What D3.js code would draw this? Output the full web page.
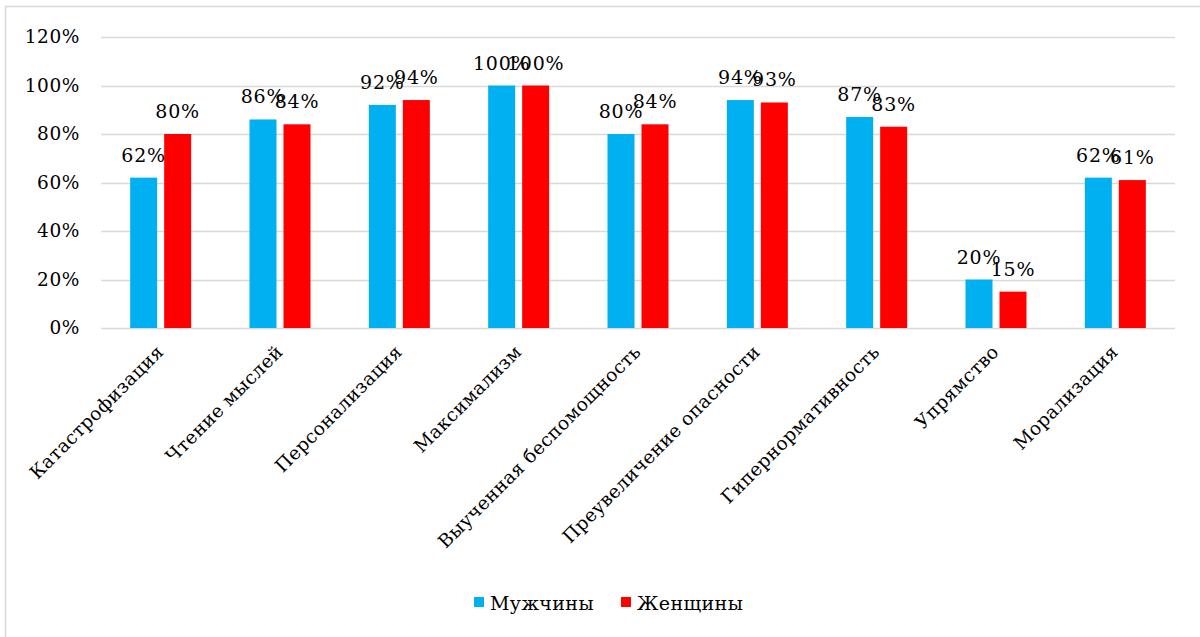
<!DOCTYPE html>
<html lang='ru'>
<head>
    <meta charset='UTF-8'>
    <title>Когнитивные искажения</title>
    <script src='https://d3js.org/d3.v7.min.js'></script>
    <style>
      body { margin: 0; background: #fff; }
      text { font-family: 'DejaVu Serif', 'Liberation Serif', serif; fill: #000; font-variant-numeric: oldstyle-nums; }
    </style>
</head>
<body>
<svg id='chart' width='1200' height='637'></svg>
<script>
// categories and values (percent)
const categories = ['Катастрофизация', 'Чтение мыслей', 'Персонализация', 'Максимализм',
  'Выученная беспомощность', 'Преувеличение опасности', 'Гипернормативность', 'Упрямство', 'Морализация']
const men = [62, 86, 92, 100, 80, 94, 87, 20, 62]
const women = [80, 84, 94, 100, 84, 93, 83, 15, 61]
const seriesNames = ['Мужчины', 'Женщины']
const seriesColors = ['#00B0F0', '#FF0000']
const yTicks = [0, 20, 40, 60, 80, 100, 120]

const svg = d3.select('#chart')

// outer chart border (Excel chart area)
svg.append('rect')
  .attr('x', 5.5).attr('y', 6.5).attr('width', 1210).attr('height', 640)
  .attr('fill', 'none').attr('stroke', '#d9d9d9').attr('stroke-width', 1.5)

const plotL = 101, plotR = 1175, plotT = 37, plotB = 328

const x = d3.scaleBand().domain(categories).range([plotL, plotR])
const y = d3.scaleLinear().domain([0, 120]).range([plotB, plotT])

// gridlines
svg.append('g').selectAll('line')
  .data(yTicks).enter()
  .append('line')
    .attr('x1', plotL).attr('x2', plotR)
    .attr('y1', d => Math.round(y(d)) + 0.5).attr('y2', d => Math.round(y(d)) + 0.5)
    .attr('stroke', '#d9d9d9').attr('stroke-width', 1.5)

// y tick labels
svg.append('g').selectAll('text')
  .data(yTicks).enter()
  .append('text')
    .attr('x', 80).attr('y', d => y(d) + 6)
    .attr('text-anchor', 'end')
    .style('font-size', '18.5px')
    .style('letter-spacing', '0.6px')
    .text(d => d + '%')

// bars
const barW = 27, gap = 7
const rows = categories.map((c, i) => [
  {cat: c, s: 0, v: men[i]},
  {cat: c, s: 1, v: women[i]}
])
const barX = d => x(d.cat) + x.bandwidth() / 2 + (d.s === 0 ? -gap / 2 - barW : gap / 2)

const groups = svg.append('g').selectAll('g')
  .data(rows).enter()
  .append('g')

groups.selectAll('rect')
  .data(d => d).enter()
  .append('rect')
    .attr('x', barX)
    .attr('y', d => y(d.v))
    .attr('width', barW)
    .attr('height', d => plotB - y(d.v))
    .attr('fill', d => seriesColors[d.s])

// data labels
groups.selectAll('text')
  .data(d => d).enter()
  .append('text')
    .attr('x', d => barX(d) + barW / 2)
    .attr('y', d => y(d.v) - 16)
    .attr('text-anchor', 'middle')
    .style('font-size', '19px')
    .style('letter-spacing', '0.8px')
    .text(d => d.v + '%')

// category labels, rotated
svg.append('g').selectAll('text')
  .data(categories).enter()
  .append('text')
    .attr('transform', d => `translate(${x(d) + x.bandwidth() / 2 + 4},${353}) rotate(-45)`)
    .attr('text-anchor', 'end')
    .style('font-size', '18.5px')
    .style('letter-spacing', '0.4px')
    .text(d => d)

// legend
const legend = svg.append('g').attr('transform', 'translate(474,597)')
const legX = [0, 147]
seriesNames.forEach((name, i) => {
  legend.append('rect')
    .attr('x', legX[i]).attr('y', 0).attr('width', 10).attr('height', 10)
    .attr('fill', seriesColors[i])
  legend.append('text')
    .attr('x', legX[i] + 16).attr('y', 13)
    .style('font-size', '19px')
    .style('letter-spacing', '0.4px')
    .text(name)
})
</script>
</body>
</html>
